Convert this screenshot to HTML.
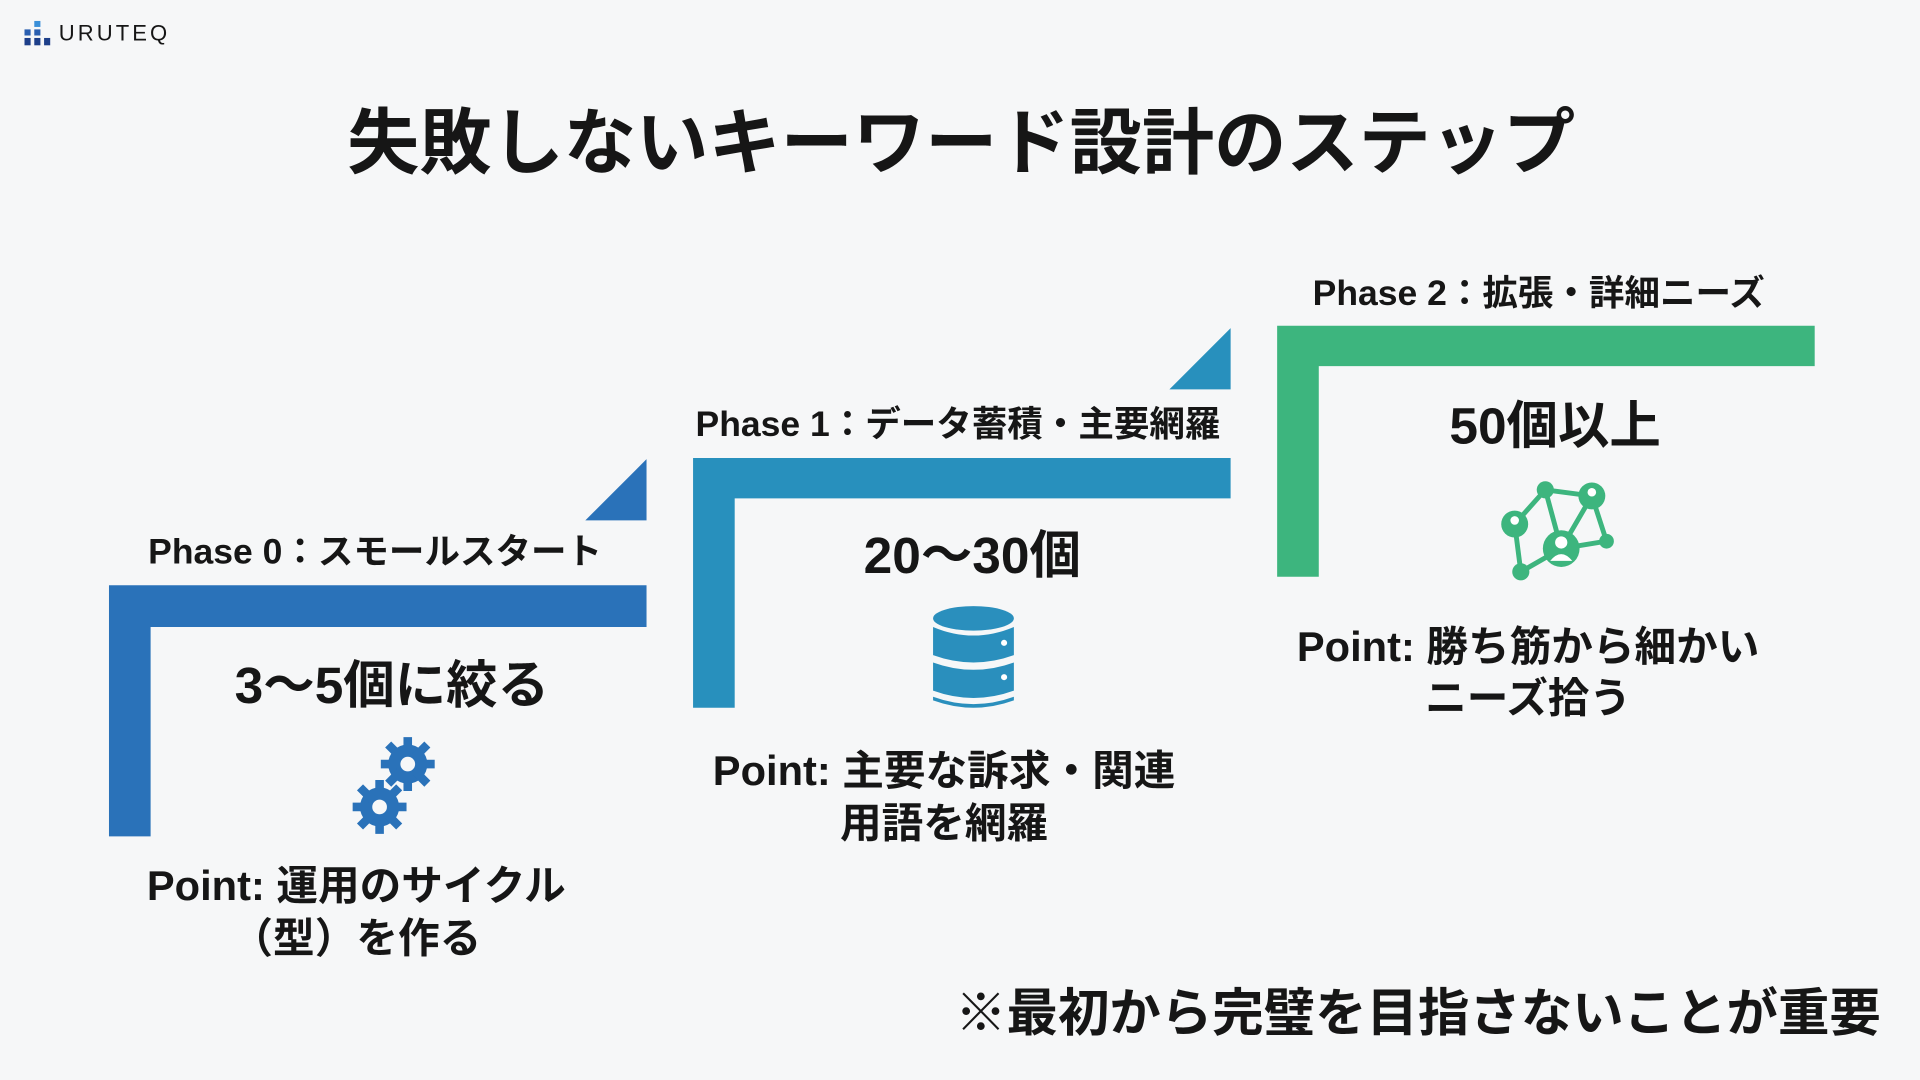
<!DOCTYPE html>
<html><head><meta charset="utf-8"><style>
html,body{margin:0;padding:0;width:1920px;height:1080px;overflow:hidden;background:#f6f7f8;}
#s{position:absolute;left:0;top:0;width:1568px;height:882px;transform:scale(1.22449);transform-origin:0 0;font-family:"Liberation Sans","Noto Sans CJK JP",sans-serif;color:#161616;}
.t{position:absolute;white-space:nowrap;font-weight:bold;}
.c{transform:translateX(-50%);text-align:center;}
.b{position:absolute;}
</style></head><body><div id="s">
<svg class="b" style="left:20px;top:17px" width="22" height="22" viewBox="0 0 22 22">
<rect x="8" y="0" width="5" height="5" fill="#3a8fd8"/><rect x="0" y="7" width="5" height="5" fill="#2a5fb0"/><rect x="8" y="7" width="5" height="5" fill="#2a5fb0"/>
<rect x="0" y="14" width="5" height="6" fill="#1d3f8a"/><rect x="8" y="14" width="5" height="6" fill="#1d3f8a"/><rect x="16" y="14" width="5" height="6" fill="#1d3f8a"/></svg>
<div class="t" style="left:48px;top:17px;font-size:18px;letter-spacing:2.5px;font-weight:normal;">URUTEQ</div>
<div class="t c" style="left:785px;top:69px;font-size:59px;">失敗しないキーワード設計のステップ</div>

<svg class="b" style="left:0;top:0" width="1568" height="882">
<path d="M89 478H528V512H123V683H89Z" fill="#2a72b9"/>
<path d="M478 425L528 375V425Z" fill="#2a72b9"/>
<path d="M566 374H1005V407H600V578H566Z" fill="#2890bd"/>
<path d="M955 318L1005 268V318Z" fill="#2890bd"/>
<path d="M1043 266H1482V299H1077V471H1043Z" fill="#3db57e"/>
<g fill="#2a72b9">
<circle cx="333" cy="624" r="16"/><circle cx="310" cy="659" r="16"/>
<g stroke="#2a72b9" stroke-width="7">
<path d="M333 602V646M311 624H355M317 608L349 640M349 608L317 640"/>
<path d="M310 637V681M288 659H332M294 643L326 675M326 643L294 675"/></g>
<circle cx="333" cy="624" r="6" fill="#f6f7f8"/><circle cx="310" cy="659" r="6" fill="#f6f7f8"/>
</g>
<g fill="#2a8fbd">
<ellipse cx="795" cy="505" rx="33" ry="10"/>
<path d="M762 512Q795 526 828 512V535Q795 547 762 535Z"/>
<path d="M762 541Q795 553 828 541V564Q795 576 762 564Z"/>
<path d="M762 569Q795 581 828 569V572Q795 584 762 572Z"/>
<circle cx="820" cy="525" r="2.5" fill="#fff"/><circle cx="820" cy="553" r="2.5" fill="#fff"/>
</g>
<g stroke="#3db57e" stroke-width="4" fill="none">
<path d="M1237 428L1262 400L1300 405L1312 442L1275 448L1242 467L1237 428M1262 400L1275 448M1300 405L1275 448"/>
</g>
<g fill="#3db57e">
<circle cx="1262" cy="400" r="7"/><circle cx="1300" cy="405" r="11"/><circle cx="1237" cy="428" r="11"/>
<circle cx="1275" cy="448" r="15"/><circle cx="1312" cy="442" r="6"/><circle cx="1242" cy="467" r="7"/>
<circle cx="1275" cy="443" r="5" fill="#fff"/><path d="M1266 458Q1275 447 1284 458Z" fill="#fff"/>
<circle cx="1300" cy="402" r="3.5" fill="#fff"/><circle cx="1237" cy="425" r="3.5" fill="#fff"/>
</g>
</svg>

<div class="t" style="left:121px;top:427px;font-size:29px;">Phase 0：スモールスタート</div>
<div class="t c" style="left:320px;top:526px;font-size:42px;">3〜5個に絞る</div>
<div class="t c" style="left:291px;top:703px;font-size:34px;line-height:43px;">Point: 運用のサイクル<br>（型）を作る</div>

<div class="t" style="left:568px;top:323px;font-size:29px;">Phase 1：データ蓄積・主要網羅</div>
<div class="t c" style="left:794px;top:420px;font-size:42px;">20〜30個</div>
<div class="t c" style="left:771px;top:609px;font-size:34px;line-height:43px;">Point: 主要な訴求・関連<br>用語を網羅</div>

<div class="t" style="left:1072px;top:216px;font-size:29px;">Phase 2：拡張・詳細ニーズ</div>
<div class="t c" style="left:1270px;top:314px;font-size:42px;">50個以上</div>
<div class="t c" style="left:1248px;top:508px;font-size:34px;line-height:42px;">Point: 勝ち筋から細かい<br>ニーズ拾う</div>

<div class="t" style="left:780px;top:794px;font-size:42px;">※最初から完璧を目指さないことが重要</div>
</div></body></html>
